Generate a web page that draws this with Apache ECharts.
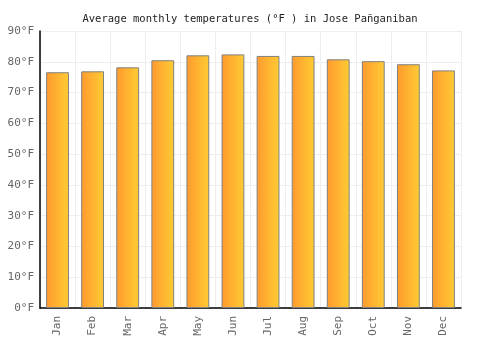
<!DOCTYPE html>
<html>
	<head>
		<meta charset="utf-8">
		<title>Average monthly temperatures</title>
		<script src="https://cdn.jsdelivr.net/npm/echarts@6/dist/echarts.min.js"></script>
		<style>
			body { margin: 0; }
		</style>
	</head>
	<body>
		<div id="main" style="width: 500px;height:350px;"></div>

		<script type="text/javascript">
			var months = ['Jan', 'Feb', 'Mar', 'Apr', 'May', 'Jun', 'Jul', 'Aug', 'Sep', 'Oct', 'Nov', 'Dec'];
			var tempsF = [76.6, 76.9, 78.2, 80.5, 82.1, 82.4, 81.9, 81.9, 80.8, 80.2, 79.2, 77.2];
			var yTicks = [0, 10, 20, 30, 40, 50, 60, 70, 80, 90];

			var font = '"DejaVu Sans Mono", monospace';
			var myChart = echarts.init(document.getElementById('main'));
			var option = {
				animation: false,
				title: {
					text: 'Average monthly temperatures (°F ) in Jose Pañganiban',
					left: 'center',
					top: 9,
					textStyle: { fontFamily: font, fontSize: 10.5, fontWeight: 'normal', color: '#222' }
				},
				grid: { left: 40, right: 39, top: 31, bottom: 42 },
				xAxis: {
					type: 'category',
					data: months,
					axisLine: { lineStyle: { color: '#000', width: 1.5 } },
					axisTick: { show: false },
					splitLine: { show: true, lineStyle: { color: '#eeeeee' } },
					axisLabel: { rotate: 90, fontFamily: font, fontSize: 11, color: '#666', margin: 8 }
				},
				yAxis: {
					type: 'value',
					min: yTicks[0],
					max: yTicks[yTicks.length - 1],
					interval: 10,
					axisLine: { show: true, lineStyle: { color: '#000', width: 1.5 } },
					axisTick: { show: false },
					splitLine: { lineStyle: { color: '#eeeeee' } },
					axisLabel: { formatter: '{value}°F', fontFamily: font, fontSize: 11, color: '#666', margin: 6 }
				},
				series: [{
					type: 'bar',
					data: tempsF,
					barWidth: '65%',
					itemStyle: {
						borderColor: '#808080',
						borderWidth: 1,
						color: new echarts.graphic.LinearGradient(0, 0, 1, 0, [
							{ offset: 0, color: '#ff9a2e' },
							{ offset: 1, color: '#ffcc33' }
						])
					}
				}]
			};
			myChart.setOption(option);
		</script>
	</body>
</html>
